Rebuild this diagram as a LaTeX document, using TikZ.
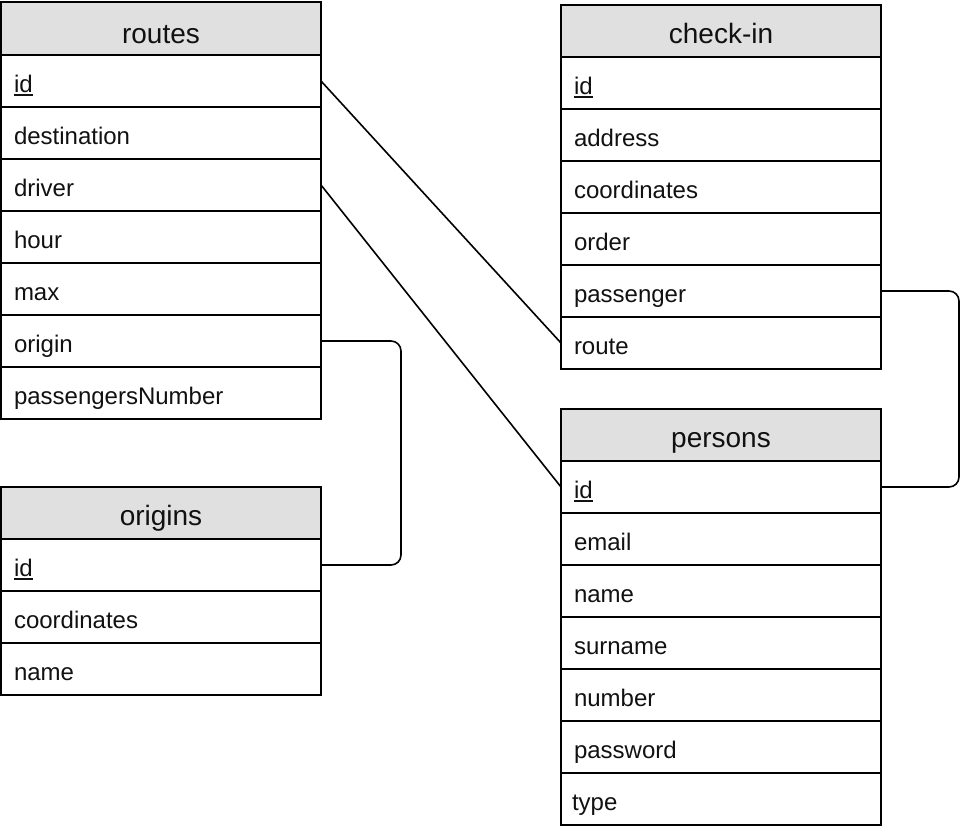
\documentclass[tikz,border=0pt]{standalone}
\usepackage{fontspec}
\setmainfont{Liberation Sans}
\newcommand\keyul[1]{\setbox0\hbox{#1}\rlap{\rule[-2.3pt]{\wd0}{1pt}}\box0}
\definecolor{hdrfill}{HTML}{E0E0E0}
\definecolor{inkc}{HTML}{111111}
\tikzset{
  box/.style={draw=black, line width=1.5pt, rectangle, outer sep=0pt, inner ysep=0pt,
    text=inkc, minimum width=240pt},
  hdr/.style={box, fill=hdrfill, minimum height=39pt, text height=18pt, text depth=0pt,
    font=\fontsize{21pt}{25pt}\selectfont, anchor=north west},
  cell/.style={box, fill=white, minimum height=39pt, inner xsep=9.75pt, text width=220.5pt,
    align=left, text height=17.25pt, text depth=0pt,
    font=\fontsize{18pt}{21pt}\selectfont, anchor=north west},
  link/.style={draw=black, line width=1.2pt, rounded corners=7.5pt}
}
\begin{document}
\begin{tikzpicture}[x=0.75pt,y=-0.75pt]
\useasboundingbox (0,0) rectangle (964,832);
% routes
\node[hdr, minimum height=39.75pt, text height=21.75pt] (routes) at (1,2) {routes};
\node[cell] (routes-id) at (1,55) {\keyul{id}};
\node[cell] (routes-destination) at (1,107) {destination};
\node[cell] (routes-driver) at (1,159) {driver};
\node[cell] (routes-hour) at (1,211) {hour};
\node[cell] (routes-max) at (1,263) {max};
\node[cell] (routes-origin) at (1,315) {origin};
\node[cell] (routes-pn) at (1,367) {passengersNumber};
% origins
\node[hdr] (origins) at (1,487) {origins};
\node[cell] (origins-id) at (1,539) {\keyul{id}};
\node[cell] (origins-coordinates) at (1,591) {coordinates};
\node[cell] (origins-name) at (1,643) {name};
% check-in
\node[hdr] (checkin) at (561,5) {check-in};
\node[cell] (checkin-id) at (561,57) {\keyul{id}};
\node[cell] (checkin-address) at (561,109) {address};
\node[cell] (checkin-coordinates) at (561,161) {coordinates};
\node[cell] (checkin-order) at (561,213) {order};
\node[cell] (checkin-passenger) at (561,265) {passenger};
\node[cell] (checkin-route) at (561,317) {route};
% persons
\node[hdr] (persons) at (561,409) {persons};
\node[cell] (persons-id) at (561,461) {\keyul{id}};
\node[cell] (persons-email) at (561,513) {email};
\node[cell] (persons-name) at (561,565) {name};
\node[cell] (persons-surname) at (561,617) {surname};
\node[cell] (persons-number) at (561,669) {number};
\node[cell] (persons-password) at (561,721) {password};
\node[cell, inner xsep=8.25pt, text width=223.5pt] (persons-type) at (561,773) {type};
% connectors
\draw[link] (routes-id.east) -- (checkin-route.west);
\draw[link] (routes-driver.east) -- (persons-id.west);
\draw[link] (routes-origin.east) -- ++(80,0) |- (origins-id.east);
\draw[link] (checkin-passenger.east) -- ++(78,0) |- (persons-id.east);
\end{tikzpicture}
\end{document}
